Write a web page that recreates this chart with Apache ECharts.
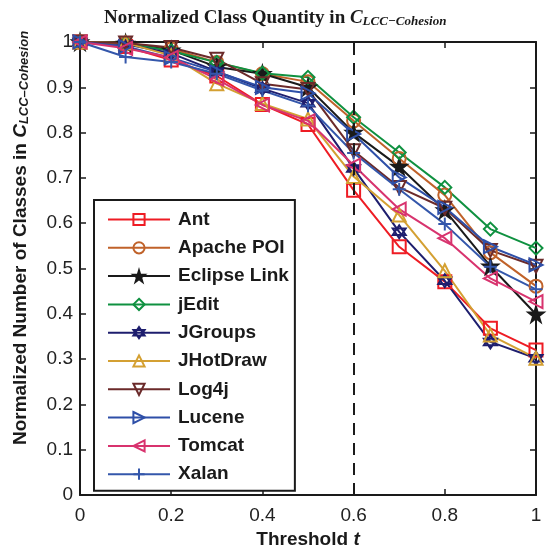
<!DOCTYPE html>
<html>
<head>
<meta charset="utf-8">
<script src="https://cdn.jsdelivr.net/npm/echarts@6/dist/echarts.min.js"></script>
<style>
  html, body { margin: 0; padding: 0; background: #fff; }
  #main { width: 547px; height: 551px; }
</style>
</head>
<body>
<div id="main"></div>
<script>
  // thresholds on the x axis
  var thresholds = [0, 0.1, 0.2, 0.3, 0.4, 0.5, 0.6, 0.7, 0.8, 0.9, 1.0]

  var names = ['Ant', 'Apache POI', 'Eclipse Link', 'jEdit', 'JGroups', 'JHotDraw', 'Log4j', 'Lucene', 'Tomcat', 'Xalan']

  var ant        = [1, 0.990, 0.960, 0.925, 0.862, 0.818, 0.673, 0.548, 0.471, 0.368, 0.320]
  var apachePoi  = [1, 0.997, 0.985, 0.955, 0.930, 0.912, 0.826, 0.743, 0.662, 0.535, 0.461]
  var eclipse    = [1, 0.997, 0.982, 0.945, 0.930, 0.900, 0.800, 0.725, 0.629, 0.505, 0.399]
  var jEdit      = [1, 0.997, 0.980, 0.955, 0.931, 0.922, 0.834, 0.756, 0.679, 0.587, 0.545]
  var jGroups    = [1, 0.995, 0.975, 0.935, 0.897, 0.865, 0.721, 0.581, 0.473, 0.338, 0.302]
  var jHotDraw   = [1, 0.998, 0.970, 0.908, 0.864, 0.830, 0.703, 0.618, 0.495, 0.353, 0.302]
  var log4j      = [1, 0.998, 0.988, 0.962, 0.908, 0.895, 0.760, 0.679, 0.633, 0.540, 0.505]
  var lucene     = [1, 0.990, 0.965, 0.934, 0.900, 0.887, 0.797, 0.701, 0.635, 0.548, 0.508]
  var tomcat     = [1, 0.986, 0.966, 0.918, 0.861, 0.826, 0.728, 0.631, 0.567, 0.478, 0.427]
  var xalan      = [1, 0.967, 0.956, 0.930, 0.893, 0.859, 0.755, 0.675, 0.598, 0.504, 0.454]

  var cutoff = 0.6  // dashed line

  var values = [ant, apachePoi, eclipse, jEdit, jGroups, jHotDraw, log4j, lucene, tomcat, xalan]
  var colors = ['#ee1c24', '#c0622a', '#1a1a1a', '#0f9140', '#1e1e6e', '#d4a032', '#6b2a2a', '#2e4fa8', '#d8336e', '#3457ab']
  var symbols = [
    'rect',
    'circle',
    'path://M50,0L61,35L98,35L68,57L79,91L50,70L21,91L32,57L2,35L39,35Z',
    'diamond',
    'path://M5,0L9.33,7.5L0.67,7.5Z M5,10L0.67,2.5L9.33,2.5Z',
    'triangle',
    'path://M0,0L10,0L5,9Z',
    'path://M0,0L9,5L0,10Z',
    'path://M9,0L0,5L9,10Z',
    'path://M5,0L5,10M0,5L10,5'
  ]
  var filled = [false, false, true, false, false, false, false, false, false, false]

  var font = 'Liberation Sans'

  var series = names.map(function (n, i) {
    var s = {
      name: n,
      type: 'line',
      data: thresholds.map(function (t, j) { return [t, values[i][j]] }),
      symbol: symbols[i],
      symbolSize: i === 2 ? 15 : 13,
      lineStyle: { color: colors[i], width: 2 },
      itemStyle: {
        color: filled[i] ? colors[i] : 'rgba(255,255,255,0)',
        borderColor: colors[i],
        borderWidth: 2
      },
      emphasis: { disabled: true },
      z: 3
    }
    if (i === 0) {
      s.markLine = {
        silent: true,
        symbol: ['none', 'none'],
        label: { show: false },
        lineStyle: { color: '#1a1a1a', width: 2, type: [12, 8] },
        data: [{ xAxis: cutoff }]
      }
    }
    return s
  })

  var myChart = echarts.init(document.getElementById('main'))
  var option = {
    animation: false,
    backgroundColor: '#fff',
    title: {
      text: '{a|Normalized Class Quantity in }{b|C}{c|LCC\u2212Cohesion}',
      left: 99,
      top: 4,
      textStyle: {
        rich: {
          a: { fontFamily: 'Liberation Serif', fontWeight: 'bold', fontSize: 19, color: '#1a1a1a' },
          b: { fontFamily: 'Liberation Serif', fontWeight: 'bold', fontStyle: 'italic', fontSize: 19, color: '#1a1a1a' },
          c: { fontFamily: 'Liberation Serif', fontWeight: 'bold', fontStyle: 'italic', fontSize: 13, color: '#1a1a1a', padding: [6, 0, 0, 0] }
        }
      }
    },
    grid: { left: 80, right: 11, top: 42, bottom: 56, outerBoundsMode: 'none' },
    legend: {
      orient: 'vertical',
      left: 94,
      top: 200,
      data: names,
      itemWidth: 62,
      itemHeight: 14,
      itemGap: 9.3,
      padding: [10, 6, 7, 13],
      backgroundColor: '#fff',
      borderColor: '#1a1a1a',
      borderWidth: 2,
      borderRadius: 0,
      textStyle: { fontFamily: font, fontWeight: 'bold', fontSize: 19, color: '#1a1a1a', padding: [0, 0, 0, 3] }
    },
    xAxis: [{
      type: 'value', min: 0, max: 1, interval: 0.2, position: 'bottom',
      name: '{a|Threshold }{b|t}',
      nameLocation: 'middle',
      nameGap: 31,
      nameTextStyle: {
        rich: {
          a: { fontFamily: font, fontWeight: 'bold', fontSize: 19, color: '#1a1a1a' },
          b: { fontFamily: font, fontWeight: 'bold', fontStyle: 'italic', fontSize: 19, color: '#1a1a1a' }
        }
      },
      axisLine: { show: true, onZero: false, lineStyle: { color: '#1a1a1a', width: 2 } },
      axisTick: { show: true, inside: true, length: 6, lineStyle: { color: '#1a1a1a', width: 1.5 } },
      axisLabel: { fontFamily: font, fontSize: 19, color: '#222', margin: 11 },
      splitLine: { show: false }
    }, {
      type: 'value', min: 0, max: 1, interval: 0.2, position: 'top',
      axisLine: { show: true, onZero: false, lineStyle: { color: '#1a1a1a', width: 2 } },
      axisTick: { show: true, inside: true, length: 6, lineStyle: { color: '#1a1a1a', width: 1.5 } },
      axisLabel: { show: false },
      splitLine: { show: false }
    }],
    yAxis: [{
      type: 'value', min: 0, max: 1, interval: 0.1, position: 'left',
      axisLine: { show: true, onZero: false, lineStyle: { color: '#1a1a1a', width: 2 } },
      axisTick: { show: true, inside: true, length: 6, lineStyle: { color: '#1a1a1a', width: 1.5 } },
      axisLabel: { fontFamily: font, fontSize: 19, color: '#222', margin: 7 },
      splitLine: { show: false }
    }, {
      type: 'value', min: 0, max: 1, interval: 0.1, position: 'right',
      axisLine: { show: true, onZero: false, lineStyle: { color: '#1a1a1a', width: 2 } },
      axisTick: { show: true, inside: true, length: 6, lineStyle: { color: '#1a1a1a', width: 1.5 } },
      axisLabel: { show: false },
      splitLine: { show: false }
    }],
    graphic: [{
      type: 'text',
      x: 21,
      y: 238,
      rotation: Math.PI / 2,
      style: {
        text: '{a|Normalized Number of Classes in }{b|C}{c|LCC\u2013Cohesion}',
        align: 'center',
        verticalAlign: 'middle',
        rich: {
          a: { fontFamily: font, fontWeight: 'bold', fontSize: 19, fill: '#1a1a1a' },
          b: { fontFamily: font, fontWeight: 'bold', fontStyle: 'italic', fontSize: 19, fill: '#1a1a1a' },
          c: { fontFamily: font, fontWeight: 'bold', fontStyle: 'italic', fontSize: 13, fill: '#1a1a1a', padding: [6, 0, 0, 0] }
        }
      }
    }],
    series: series
  }
  myChart.setOption(option)
</script>
</body>
</html>
